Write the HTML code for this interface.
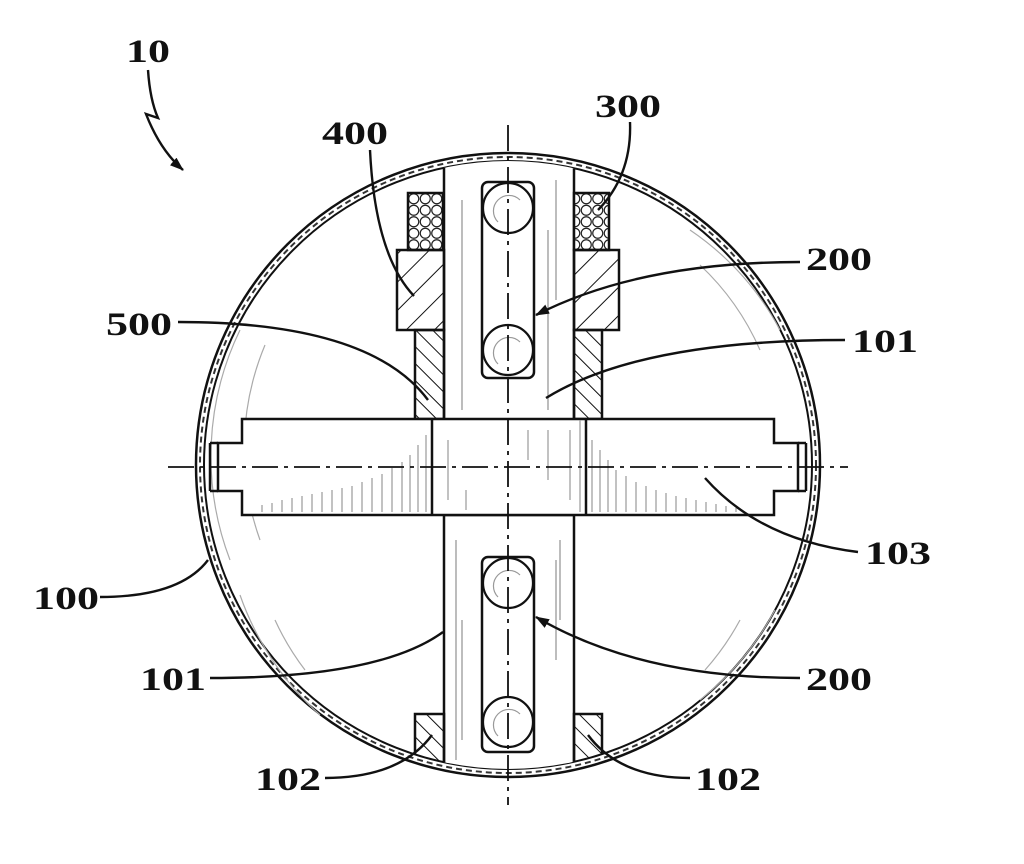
<!DOCTYPE html>
<html><head><style>html,body{margin:0;padding:0;background:#fff;}svg{display:block}
text{font-family:"Liberation Serif",serif;font-weight:bold;font-size:33px;fill:#111}</style></head>
<body>
<svg width="1024" height="864" viewBox="0 0 1024 864" xmlns="http://www.w3.org/2000/svg">
<defs>
<pattern id="h1" width="20" height="20" patternUnits="userSpaceOnUse" patternTransform="rotate(45)"><line x1="0" y1="0" x2="0" y2="20" stroke="#111" stroke-width="2"/></pattern>
<pattern id="h2" width="12" height="12" patternUnits="userSpaceOnUse" patternTransform="rotate(-45)"><line x1="0" y1="0" x2="0" y2="12" stroke="#111" stroke-width="2"/></pattern>
<pattern id="coil" width="11.5" height="11.5" patternUnits="userSpaceOnUse" x="408" y="193"><circle cx="5.75" cy="5.75" r="5" fill="#fff" stroke="#222" stroke-width="1.2"/></pattern>
<clipPath id="inner"><circle cx="508" cy="465" r="304"/></clipPath>
<marker id="ar" markerWidth="14" markerHeight="10" refX="13" refY="5" orient="auto" markerUnits="userSpaceOnUse"><path d="M0,0 L14,5 L0,10 z" fill="#111"/></marker>
</defs>
<g fill="none" stroke="#111">
<circle cx="508" cy="465" r="312" stroke-width="2.5"/>
<circle cx="508" cy="465" r="304" stroke-width="2"/>
<circle cx="508" cy="465" r="308" stroke-width="2" stroke-dasharray="6 4" stroke="#333"/>
<g stroke="#aaa" stroke-width="1.2">
<path d="M240 330 A290 290 0 0 0 230 560"/>
<path d="M265 345 A270 270 0 0 0 260 540"/>
<path d="M690 230 A280 280 0 0 1 780 330"/>
<path d="M700 265 A260 260 0 0 1 760 350"/>
<path d="M775 610 A290 290 0 0 1 700 700"/>
<path d="M740 620 A260 260 0 0 1 705 670"/>
<path d="M240 595 A290 290 0 0 0 320 715"/>
<path d="M275 620 A260 260 0 0 0 305 670"/>
</g>
<g clip-path="url(#inner)">
<rect x="444" y="120" width="130" height="300" fill="#fff" stroke-width="2.5"/>
<rect x="444" y="515" width="130" height="300" fill="#fff" stroke-width="2.5"/>
<rect x="408" y="193" width="35" height="57" fill="url(#coil)" stroke-width="2.5"/>
<rect x="574" y="193" width="35" height="57" fill="url(#coil)" stroke-width="2.5"/>
<rect x="415" y="714" width="29" height="80" fill="url(#h2)" stroke-width="2.5"/>
<rect x="574" y="714" width="28" height="80" fill="url(#h2)" stroke-width="2.5"/>
</g>
<g stroke="#999" stroke-width="1.3">
<line x1="462" y1="200" x2="462" y2="410"/><line x1="556" y1="180" x2="556" y2="300"/><line x1="548" y1="230" x2="548" y2="410"/>
<line x1="456" y1="540" x2="456" y2="760"/><line x1="462" y1="620" x2="462" y2="740"/><line x1="560" y1="540" x2="560" y2="620"/><line x1="556" y1="560" x2="556" y2="660"/>
</g>
<rect x="397" y="250" width="47" height="80" fill="url(#h1)" stroke-width="2.5"/>
<rect x="574" y="250" width="45" height="80" fill="url(#h1)" stroke-width="2.5"/>
<rect x="415" y="330" width="29" height="89" fill="url(#h2)" stroke-width="2.5"/>
<rect x="574" y="330" width="28" height="89" fill="url(#h2)" stroke-width="2.5"/>
<rect x="482" y="182" width="52" height="196" rx="6" fill="#fff" stroke-width="2.5"/>
<rect x="482" y="557" width="52" height="195" rx="6" fill="#fff" stroke-width="2.5"/>
<g stroke-width="2.2" fill="#fff">
<circle cx="508" cy="208" r="25"/><circle cx="508" cy="350" r="25"/>
<circle cx="508" cy="583" r="25"/><circle cx="508" cy="722" r="25"/>
</g>
<g stroke="#999" stroke-width="1.2">
<path d="M498 222 A14 14 0 0 1 520 200"/><path d="M498 364 A14 14 0 0 1 520 342"/><path d="M498 597 A14 14 0 0 1 520 575"/><path d="M498 736 A14 14 0 0 1 520 714"/>
</g>
<path d="M242 419 H774 V443 H798 V491 H774 V515 H242 V491 H218 V443 H242 Z" fill="#fff" stroke-width="2.5"/>
<line x1="210" y1="443" x2="210" y2="491" stroke-width="2.5"/><line x1="210" y1="443" x2="218" y2="443" stroke-width="2.5"/><line x1="210" y1="491" x2="218" y2="491" stroke-width="2.5"/>
<line x1="806" y1="443" x2="806" y2="491" stroke-width="2.5"/><line x1="798" y1="443" x2="806" y2="443" stroke-width="2.5"/><line x1="798" y1="491" x2="806" y2="491" stroke-width="2.5"/>
<line x1="432" y1="419" x2="432" y2="515" stroke-width="2.5"/><line x1="586" y1="419" x2="586" y2="515" stroke-width="2.5"/>
<g stroke="#999" stroke-width="1.2">
<path d="M262 512 V505 M272 512 V503 M282 512 V500 M292 512 V498 M302 512 V496 M312 512 V494 M322 512 V492 M332 512 V490 M342 512 V488 M352 512 V486 M362 512 V482 M372 512 V478 M382 512 V474 M392 512 V468 M402 512 V462 M410 512 V455 M418 512 V445 M426 512 V435"/>
<path d="M592 512 V440 M600 512 V450 M608 512 V460 M616 512 V470 M626 512 V476 M636 512 V482 M646 512 V486 M656 512 V490 M666 512 V493 M676 512 V496 M686 512 V498 M696 512 V500 M706 512 V502 M716 512 V504 M726 512 V506 M736 512 V508"/>
<path d="M448 440 V500 M466 490 V510 M528 430 V460 M548 430 V480 M570 430 V500 M580 420 V512"/>
</g>
<line x1="508" y1="125" x2="508" y2="805" stroke-width="1.8" stroke-dasharray="26 6 4 6"/>
<line x1="168" y1="467" x2="848" y2="467" stroke-width="1.8" stroke-dasharray="26 6 4 6"/>
<g stroke-width="2.4">
<path d="M148 70 Q150 100 158 118 L146 114 Q160 150 183 170" marker-end="url(#ar)"/>
<path d="M630 122 Q632 175 598 210"/>
<path d="M370 150 Q375 255 414 296"/>
<path d="M800 262 Q640 262 536 315" marker-end="url(#ar)"/>
<path d="M178 322 Q370 322 428 400"/>
<path d="M845 340 Q640 340 546 398"/>
<path d="M858 552 Q760 540 705 478"/>
<path d="M100 597 Q180 597 208 560"/>
<path d="M210 678 Q380 678 443 632"/>
<path d="M800 678 Q640 678 536 617" marker-end="url(#ar)"/>
<path d="M325 778 Q400 778 432 735"/>
<path d="M690 778 Q620 778 588 735"/>
</g>
</g>
<text x="126" y="62" textLength="44" lengthAdjust="spacingAndGlyphs">10</text>
<text x="595" y="117" textLength="66" lengthAdjust="spacingAndGlyphs">300</text>
<text x="322" y="144" textLength="66" lengthAdjust="spacingAndGlyphs">400</text>
<text x="806" y="270" textLength="66" lengthAdjust="spacingAndGlyphs">200</text>
<text x="106" y="335" textLength="66" lengthAdjust="spacingAndGlyphs">500</text>
<text x="852" y="352" textLength="66" lengthAdjust="spacingAndGlyphs">101</text>
<text x="865" y="564" textLength="66" lengthAdjust="spacingAndGlyphs">103</text>
<text x="33" y="609" textLength="66" lengthAdjust="spacingAndGlyphs">100</text>
<text x="140" y="690" textLength="66" lengthAdjust="spacingAndGlyphs">101</text>
<text x="806" y="690" textLength="66" lengthAdjust="spacingAndGlyphs">200</text>
<text x="255" y="790" textLength="66" lengthAdjust="spacingAndGlyphs">102</text>
<text x="695" y="790" textLength="66" lengthAdjust="spacingAndGlyphs">102</text>
</svg>
</body></html>
